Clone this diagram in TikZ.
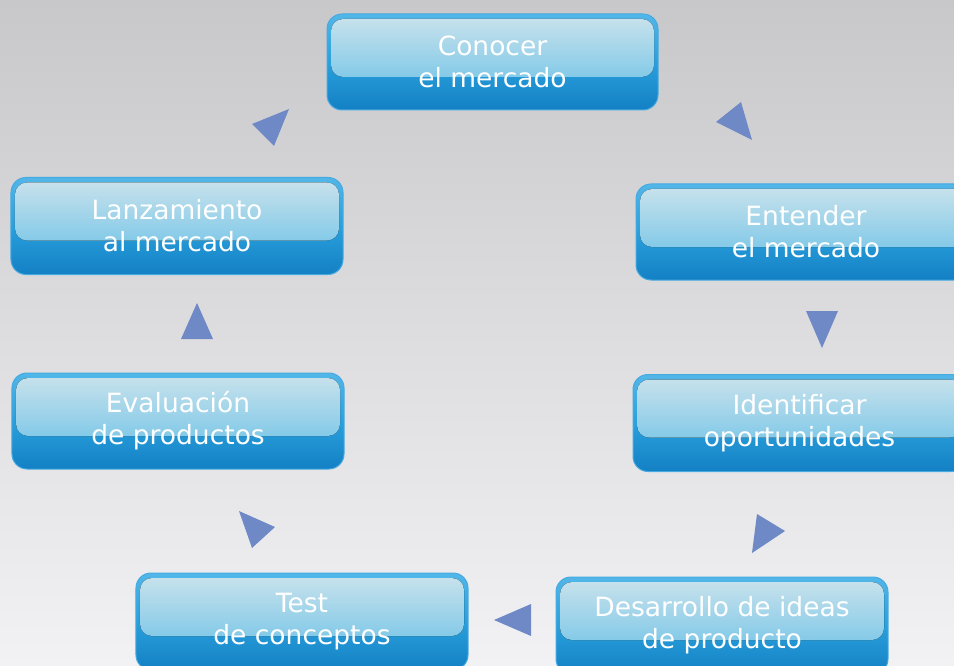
\documentclass[tikz,border=0pt]{standalone}
\usepackage{fontspec}
\setmainfont{DejaVu Sans}
\definecolor{bgTop}{RGB}{200,200,202}
\definecolor{bgBot}{RGB}{242,242,244}
\definecolor{boxTop}{RGB}{82,182,232}
\definecolor{boxMid}{RGB}{42,160,220}
\definecolor{boxBot}{RGB}{19,128,196}
\definecolor{boxLine}{RGB}{70,170,225}
\definecolor{hlTop}{RGB}{203,227,236}
\definecolor{hlBot}{RGB}{95,189,230}
\definecolor{triCol}{RGB}{110,137,198}
\tikzset{
  stepbox/.style={draw=boxLine, line width=1bp, rounded corners=15bp,
    minimum width=332bp, minimum height=97bp, inner sep=0pt,
    top color=boxTop, bottom color=boxBot, middle color=boxMid,
    text=white, align=center,
    font=\fontsize{26.5bp}{32bp}\selectfont,
    path picture={
      \fill[top color=hlTop, bottom color=hlBot, rounded corners=12bp]
        ([shift={(4bp,-5bp)}]path picture bounding box.north west) rectangle
        ([shift={(-4bp,-63bp)}]path picture bounding box.north east);
    }},
  tri/.style={fill=triCol}
}
\begin{document}
\begin{tikzpicture}[x=1bp,y=-1bp]
\useasboundingbox (0,0) rectangle (954,666);
\shade[top color=bgTop, bottom color=bgBot] (0,0) rectangle (954,666);
\begin{scope}
\clip (0,0) rectangle (954,666);
\node[stepbox, minimum width=331bp, minimum height=96bp] (conocer) at (492.5,62) {Conocer\\el mercado};
\node[stepbox, minimum width=340bp, minimum height=96bp] (entender) at (806,232) {Entender\\el mercado};
\node[stepbox, minimum width=333bp, minimum height=97bp] (identificar) at (799.5,423) {Identificar\\oportunidades};
\node[stepbox] (desarrollo) at (722,625.5) {Desarrollo de ideas\\de producto};
\node[stepbox] (test) at (302,621.5) {Test\\de conceptos};
\node[stepbox, minimum height=96bp] (evaluacion) at (178,421) {Evaluación\\de productos};
\node[stepbox] (lanzamiento) at (177,226) {Lanzamiento\\al mercado};
\end{scope}
% arrowheads
\fill[tri] (716,122) -- (741,102) -- (752,140) -- cycle;
\fill[tri] (806,311) -- (838,311) -- (822,348) -- cycle;
\fill[tri] (757,514) -- (785,531) -- (752,553) -- cycle;
\fill[tri] (494,620) -- (531,604) -- (531,636) -- cycle;
\fill[tri] (239,511) -- (275,527) -- (252,548) -- cycle;
\fill[tri] (181,339) -- (213,339) -- (197,303) -- cycle;
\fill[tri] (252,124) -- (289,109) -- (274,146) -- cycle;
\end{tikzpicture}
\end{document}
